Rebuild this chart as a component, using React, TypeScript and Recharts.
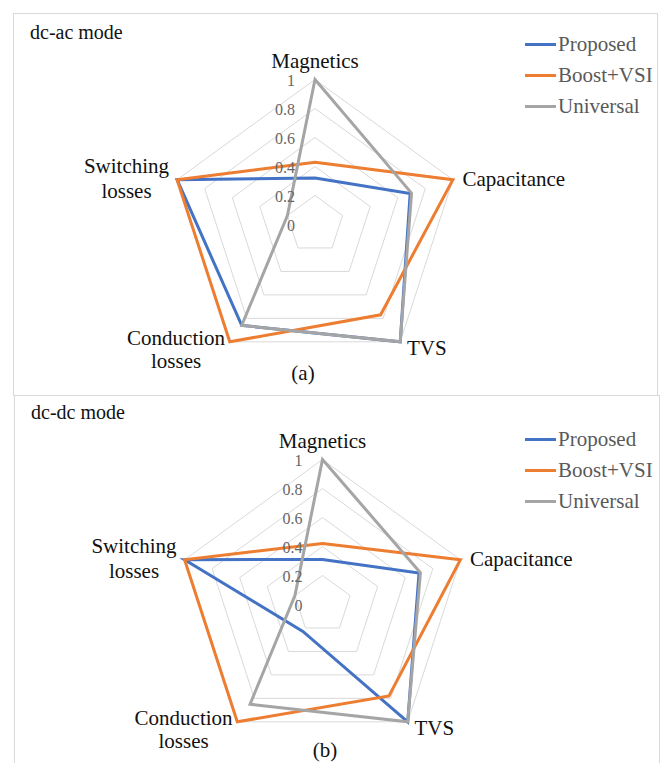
import React from 'react';
import { RadarChart, Radar, PolarGrid, PolarAngleAxis, PolarRadiusAxis, Legend } from 'recharts';

const axes = ['Magnetics', 'Capacitance', 'TVS', 'Conduction losses', 'Switching losses'];
const radiusTicks = [0, 0.2, 0.4, 0.6, 0.8, 1];
const seriesNames = ['Proposed', 'Boost+VSI', 'Universal'];
const seriesKeys = ['proposed', 'boost', 'universal'];
const seriesColors = ['#4472C4', '#ED7D31', '#A5A5A5'];

// (a) dc-ac mode
const proposedAC = [0.32, 0.69, 1, 0.86, 1];
const boostAC = [0.43, 1, 0.77, 1, 1];
const universalAC = [1, 0.7, 1, 0.86, 0.2];

// (b) dc-dc mode
const proposedDC = [0.31, 0.7, 1, 0.23, 1];
const boostDC = [0.42, 1, 0.78, 1, 1];
const universalDC = [1, 0.71, 1, 0.85, 0.2];

const buildData = (p: number[], b: number[], u: number[]) =>
  axes.map((axis, i) => ({ axis, proposed: p[i], boost: b[i], universal: u[i] }));

const FONT = '"Liberation Serif", "Times New Roman", serif';

const labelStyle: Record<string, { dx: number; dy: number[]; anchor: 'start' | 'middle' | 'end' }> = {
  Magnetics: { dx: 0, dy: [-11], anchor: 'middle' },
  Capacitance: { dx: 2, dy: [2], anchor: 'start' },
  TVS: { dx: 2, dy: [0], anchor: 'start' },
  'Conduction losses': { dx: -49, dy: [-10, 13], anchor: 'middle' },
  'Switching losses': { dx: -43, dy: [-11, 14], anchor: 'middle' },
};

const AngleTick = (props: any) => {
  const { x, y, payload } = props;
  const name: string = payload.value;
  const st = labelStyle[name] || { dx: 0, dy: [0], anchor: 'middle' };
  const lines = name.includes(' ') ? name.split(' ') : [name];
  return (
    <g>
      {lines.map((ln, i) => (
        <text
          key={i}
          x={x + st.dx}
          y={y + st.dy[i]}
          textAnchor={st.anchor}
          dominantBaseline="central"
          style={{ fontFamily: FONT, fontSize: 21 }}
          fill="#111"
        >
          {ln}
        </text>
      ))}
    </g>
  );
};

const RadiusTick = (props: any) => {
  const { x, y, payload } = props;
  return (
    <text
      x={x - 20}
      y={y + 1}
      textAnchor="end"
      dominantBaseline="central"
      style={{ fontFamily: FONT, fontSize: 16 }}
      fill="#666"
    >
      {String(payload.value)}
    </text>
  );
};

const LegendContent = () => (
  <div style={{ fontFamily: FONT, fontSize: 21, color: '#595959' }}>
    {seriesNames.map((n, i) => (
      <div key={n} style={{ display: 'flex', alignItems: 'center', height: 31 }}>
        <span style={{ display: 'inline-block', width: 31, height: 3, background: seriesColors[i], marginRight: 2 }} />
        <span style={{ lineHeight: '31px' }}>{n}</span>
      </div>
    ))}
  </div>
);

type PanelProps = {
  left: number;
  top: number;
  width: number;
  height: number;
  cx: number;
  cy: number;
  title: string;
  titleTop: number;
  caption: string;
  capX: number;
  capY: number;
  legendLeft: number;
  legendTop: number;
  data: any[];
};

const Panel = (p: PanelProps) => (
  <div
    style={{
      position: 'absolute',
      left: p.left,
      top: p.top,
      width: p.width,
      height: p.height,
      border: '1.5px solid #d9d9d9',
      boxSizing: 'border-box',
      background: '#fff',
    }}
  >
    <div
      style={{
        position: 'absolute',
        left: 16,
        top: p.titleTop,
        fontFamily: FONT,
        fontSize: 20,
        lineHeight: '24px',
        color: '#111',
        whiteSpace: 'nowrap',
      }}
    >
      {p.title}
    </div>
    <div style={{ position: 'absolute', left: 0, top: 0 }}>
      <RadarChart
        width={p.width - 3}
        height={p.height - 3}
        cx={p.cx}
        cy={p.cy}
        outerRadius={145}
        data={p.data}
        margin={{ top: 0, right: 0, bottom: 0, left: 0 }}
      >
        <PolarGrid gridType="polygon" radialLines={false} stroke="#d9d9d9" strokeWidth={1} />
        <PolarAngleAxis dataKey="axis" tick={<AngleTick />} tickLine={false} axisLine={false} />
        <PolarRadiusAxis
          angle={90}
          domain={[0, 1]}
          ticks={radiusTicks}
          type="number"
          axisLine={false}
          tickLine={false}
          tick={<RadiusTick />}
        />
        {seriesKeys.map((k, i) => (
          <Radar
            key={k}
            name={seriesNames[i]}
            dataKey={k}
            stroke={seriesColors[i]}
            strokeWidth={3}
            fill="none"
            fillOpacity={0}
            dot={false}
            isAnimationActive={false}
          />
        ))}
        <Legend
          content={<LegendContent />}
          wrapperStyle={{ position: 'absolute', left: p.legendLeft, top: p.legendTop, width: 'auto' }}
        />
      </RadarChart>
    </div>
    <div
      style={{
        position: 'absolute',
        left: p.capX - 30,
        width: 60,
        top: p.capY - 12,
        textAlign: 'center',
        fontFamily: FONT,
        fontSize: 21,
        lineHeight: '24px',
        color: '#111',
      }}
    >
      {p.caption}
    </div>
  </div>
);

export default function App() {
  const dataAC = buildData(proposedAC, boostAC, universalAC);
  const dataDC = buildData(proposedDC, boostDC, universalDC);
  return (
    <div style={{ position: 'absolute', left: 0, top: 0, width: 668, height: 763, overflow: 'hidden', background: '#fff' }}>
      <Panel
        left={13}
        top={13}
        width={645}
        height={383}
        cx={301}
        cy={210.5}
        title="dc-ac mode"
        titleTop={6}
        caption="(a)"
        capX={289}
        capY={359}
        legendLeft={511}
        legendTop={15}
        data={dataAC}
      />
      <Panel
        left={14}
        top={395}
        width={646}
        height={380}
        cx={307.5}
        cy={208.5}
        title="dc-dc mode"
        titleTop={4}
        caption="(b)"
        capX={310}
        capY={354}
        legendLeft={510}
        legendTop={28}
        data={dataDC}
      />
    </div>
  );
}
